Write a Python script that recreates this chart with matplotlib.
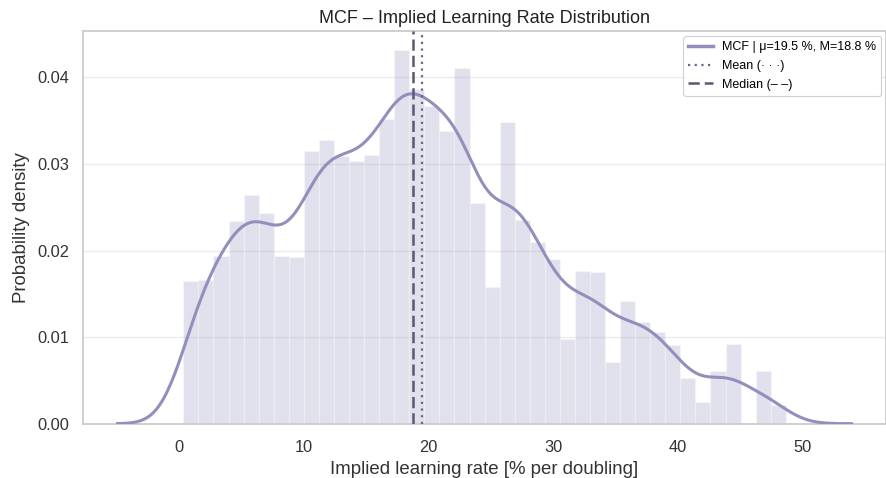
import numpy as np
import matplotlib
matplotlib.use("Agg")
import matplotlib.pyplot as plt
from matplotlib.lines import Line2D

# ---- data ----
bin_start = 0.34          # left edge of first bin (% per doubling)
bin_width = 1.2085        # histogram bin width
density = [0.0165, 0.01665, 0.01939, 0.02343, 0.02640, 0.02432, 0.01939, 0.01924,
           0.03145, 0.03283, 0.03095, 0.03037, 0.03106, 0.03519, 0.04320, 0.03866,
           0.03665, 0.03376, 0.04109, 0.02548, 0.01577, 0.03480, 0.02355, 0.02097,
           0.01904, 0.00983, 0.01762, 0.01750, 0.00710, 0.01415, 0.01179, 0.01060,
           0.00910, 0.00530, 0.00250, 0.00606, 0.00925, 0.0, 0.00606, 0.00213]
kde_bw = 1.76             # KDE bandwidth
mean_val = 19.5
median_val = 18.8
xticks = [0, 10, 20, 30, 40, 50]
yticks = [0.00, 0.01, 0.02, 0.03, 0.04]

title = "MCF – Implied Learning Rate Distribution"
xlabel = "Implied learning rate [% per doubling]"
ylabel = "Probability density"
lbl_kde = f"MCF | μ={mean_val} %, M={median_val} %"
lbl_mean = "Mean (· · ·)"
lbl_median = "Median (– –)"

# ---- style ----
plt.rcParams['font.family'] = ['Liberation Sans', 'DejaVu Sans']
c_kde = "#938fbd"
c_mean = "#6b6590"
c_median = "#5c5874"

fig = plt.figure(figsize=(8.87, 4.78), dpi=100)
ax = fig.add_axes([0.0936, 0.1136, 0.9054, 0.8214])

heights = np.array(density)
n = len(heights)
edges = bin_start + bin_width * np.arange(n + 1)
centers = 0.5 * (edges[:-1] + edges[1:])

ax.bar(centers, heights, width=bin_width, color=c_kde, alpha=0.27,
       edgecolor="white", linewidth=0.9, zorder=2)

# smooth density estimated from the histogram (weighted gaussian kernel)
k_sd = np.sqrt(kde_bw**2 - bin_width**2 / 12.0)
xs = np.linspace(edges[0] - 3 * kde_bw, edges[-1] + 3 * kde_bw, 400)
w = heights * bin_width
ys = (w[None, :] * np.exp(-0.5 * ((xs[:, None] - centers[None, :]) / k_sd) ** 2)
      / (k_sd * np.sqrt(2 * np.pi))).sum(axis=1)
ax.plot(xs, ys, color=c_kde, lw=2.2, zorder=4)

ax.axvline(mean_val, color=c_mean, ls=(0, (1, 2)), lw=1.6, zorder=5)
ax.axvline(median_val, color=c_median, ls=(0, (4.5, 2)), lw=1.8, zorder=5)

ax.margins(x=0.047, y=0.05)
ax.set_ylim(0, heights.max() * 1.05)
ax.set_xticks(xticks)
ax.set_yticks(yticks)
ax.set_yticklabels([f"{v:.2f}" for v in yticks])
ax.tick_params(axis='both', length=0, labelsize=11.8, colors="#333333")
ax.tick_params(axis='x', pad=12)
ax.tick_params(axis='y', pad=10)
ax.grid(axis='y', color="#ebebeb", lw=1.0, zorder=0)
ax.grid(axis='x', visible=False)
ax.set_axisbelow(True)
for s in ax.spines.values():
    s.set_color("#cccccc")
    s.set_linewidth(1.3)

ax.set_title(title, fontsize=13, color="#222222", pad=6)
ax.set_xlabel(xlabel, fontsize=13.4, color="#333333", labelpad=4)
ax.set_ylabel(ylabel, fontsize=13.4, color="#333333", labelpad=5)

handles = [Line2D([], [], color=c_kde, lw=2.5),
           Line2D([], [], color=c_mean, ls=(0, (1, 2)), lw=1.6),
           Line2D([], [], color=c_median, ls=(0, (4.5, 2)), lw=1.8)]
leg = ax.legend(handles, [lbl_kde, lbl_mean, lbl_median], loc="upper right",
                fontsize=9, frameon=True, fancybox=True, framealpha=1,
                edgecolor="#d0d0d0", borderaxespad=0.4, handlelength=2.0,
                handletextpad=0.7, labelspacing=0.55)
leg.get_frame().set_linewidth(0.8)

fig.savefig("out.png", dpi=100)
